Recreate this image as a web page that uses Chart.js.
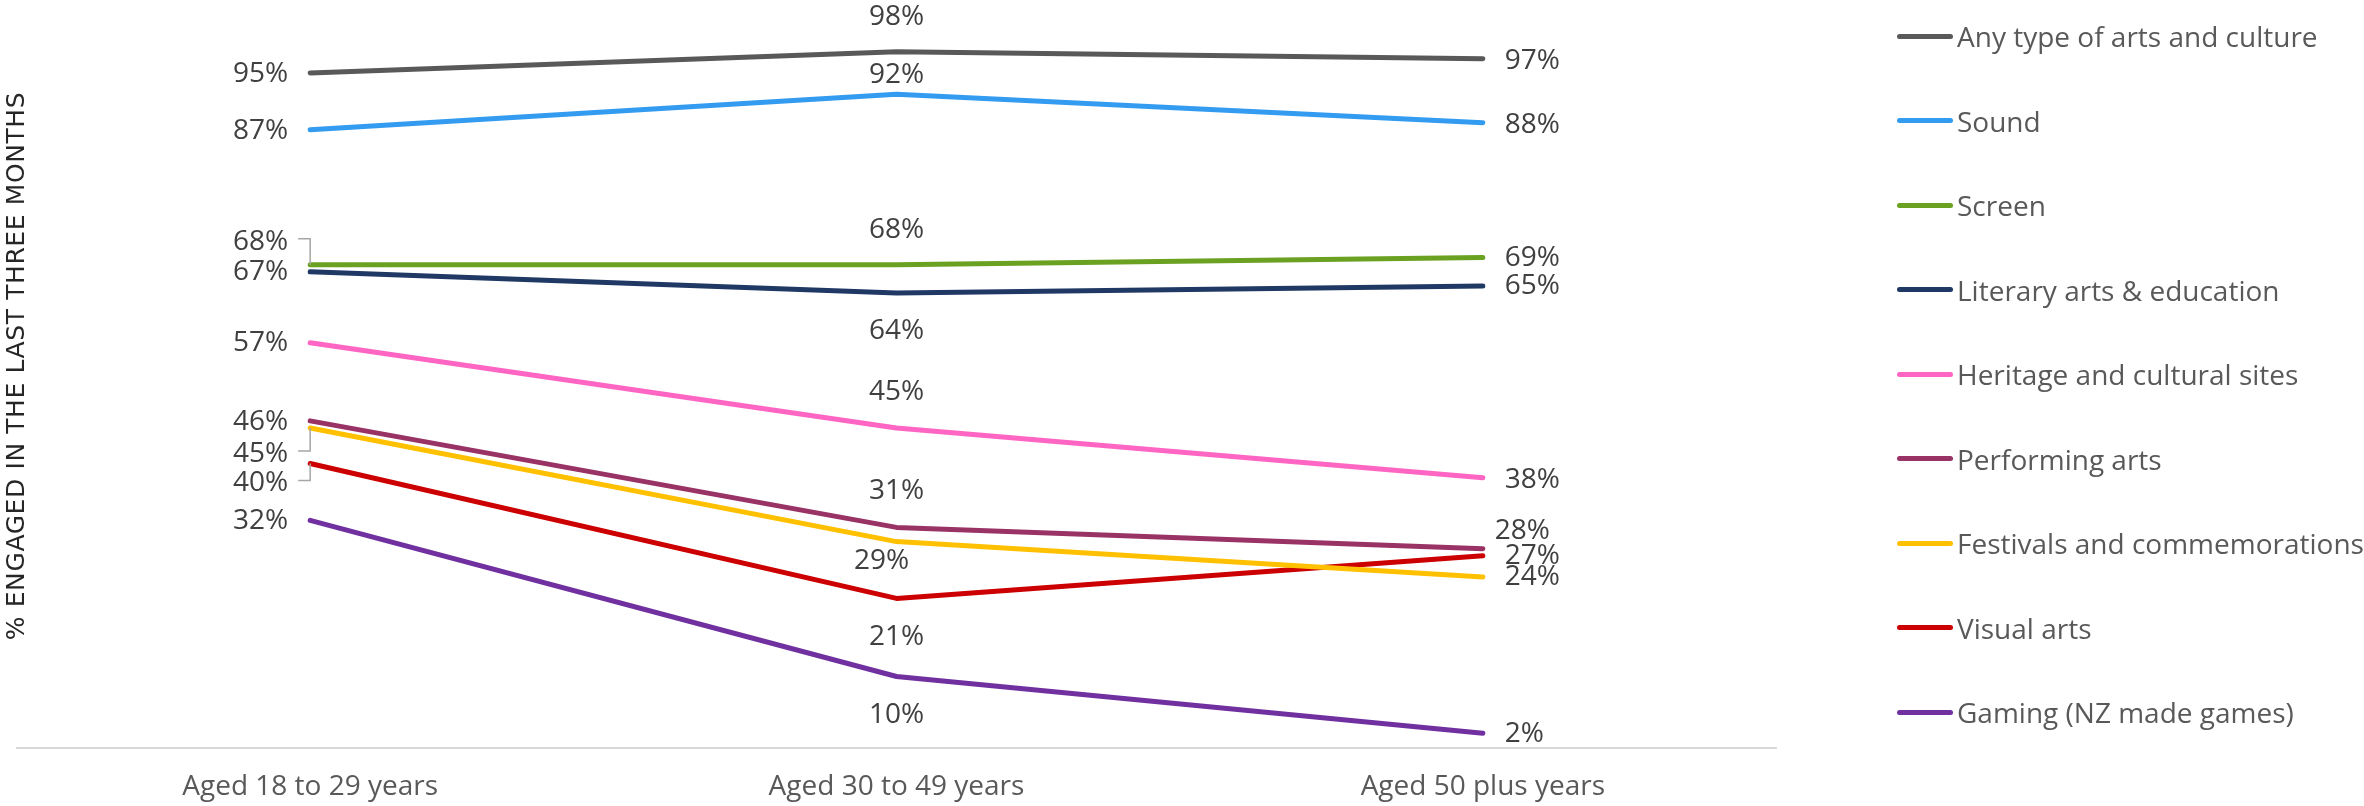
<!DOCTYPE html>
<html>
<head>
<meta charset="utf-8">
<title>Arts engagement by age group</title>
<script src="https://cdn.jsdelivr.net/npm/chart.js@4.4.1/dist/chart.umd.min.js"></script>
<style>
  html, body { margin: 0; padding: 0; background: #fff; }
  #wrap { position: relative; width: 2364px; height: 806px; overflow: hidden; }
  #wrap canvas { position: absolute; left: 0; top: 0; }
  #legend { position: absolute; left: 1897px; top: -6.25px; font-family: 'Open Sans', sans-serif; font-size: 28px; color: #595959; }
  #legend .item { height: 84.5px; display: flex; align-items: center; white-space: nowrap; }
  #legend .swatch { width: 56px; height: 5px; border-radius: 3px; margin-right: 4px; }
</style>
</head>
<body>
<div id="wrap">
  <canvas id="chartEngaged" width="2364" height="806"></canvas>
  <div id="legend"></div>
</div>
<script>
// categories
const ageGroups = ['Aged 18 to 29 years', 'Aged 30 to 49 years', 'Aged 50 plus years'];

// % engaged in the last three months, per age group
const anyArts    = [95, 98, 97];
const sound      = [87, 92, 88];
const screen     = [68, 68, 69];
const literary   = [67, 64, 65];
const heritage   = [57, 45, 38];
const performing = [46, 31, 28];
const festivals  = [45, 29, 24];
const visualArts = [40, 21, 27];
const gaming     = [32, 10, 2];

const seriesNames = [
  'Any type of arts and culture', 'Sound', 'Screen', 'Literary arts & education',
  'Heritage and cultural sites', 'Performing arts', 'Festivals and commemorations',
  'Visual arts', 'Gaming (NZ made games)'
];
const seriesValues = [anyArts, sound, screen, literary, heritage, performing, festivals, visualArts, gaming];
const seriesColors = ['#595959', '#339cf0', '#6aa121', '#1f3864', '#ff66c4', '#993366', '#ffc000', '#cc0000', '#7030a0'];

// where each value label sits: [side, dy, dx, leader line]
const labelSpots = [
  [['L', 1], ['C', -35], ['R', 2]],
  [['L', 1], ['C', -19], ['R', 2]],
  [['L', -23, 0, true], ['C', -35], ['R', 0]],
  [['L', 0], ['C', 38], ['R', 0]],
  [['L', 0], ['C', -36], ['R', 2]],
  [['L', 1], ['C', -36], ['R', -18, -10]],
  [['L', 26, 0, true], ['C', 19, -15], ['R', 0]],
  [['L', 20, 0, true], ['C', 39], ['R', 0]],
  [['L', 1], ['C', 39], ['R', 1]]
];

const yTitle = '% ENGAGED IN THE LAST THREE MONTHS';

const valueLabels = {
  id: 'valueLabels',
  afterDatasetsDraw(chart) {
    const ctx = chart.ctx;
    ctx.save();
    ctx.font = '28px "Open Sans"';
    ctx.fillStyle = '#404040';
    ctx.textBaseline = 'middle';
    chart.data.datasets.forEach((ds, i) => {
      chart.getDatasetMeta(i).data.forEach((pt, j) => {
        const [side, dy = 0, dx = 0, leader = false] = labelSpots[i][j];
        const y = pt.y + dy;
        let x = pt.x + dx;
        if (side === 'L') { ctx.textAlign = 'right'; x -= 22; }
        else if (side === 'R') { ctx.textAlign = 'left'; x += 22; }
        else ctx.textAlign = 'center';
        if (leader) {
          ctx.strokeStyle = '#a6a6a6';
          ctx.lineWidth = 1.5;
          ctx.beginPath();
          ctx.moveTo(pt.x - 12, y - 3);
          ctx.lineTo(pt.x, y - 3);
          ctx.lineTo(pt.x, pt.y);
          ctx.stroke();
        }
        ctx.fillText(ds.data[j] + '%', x, y);
      });
    });
    ctx.restore();
  }
};

// rotated axis title, placed by hand
const sideTitle = {
  id: 'sideTitle',
  afterDraw(chart) {
    const ctx = chart.ctx;
    ctx.save();
    ctx.translate(17.5, 366);
    ctx.rotate(-Math.PI / 2);
    ctx.font = '25px "DejaVu Sans"';
    ctx.letterSpacing = '0.6px';
    ctx.fillStyle = '#262626';
    ctx.textAlign = 'center';
    ctx.textBaseline = 'middle';
    ctx.fillText(yTitle, 0, 0);
    ctx.restore();
  }
};

const ctx = document.getElementById('chartEngaged');
const engagedChart = new Chart(ctx, {
  type: 'line',
  data: {
    labels: ageGroups,
    datasets: seriesNames.map((name, i) => ({
      label: name,
      data: seriesValues[i],
      borderColor: seriesColors[i],
      backgroundColor: seriesColors[i],
      borderWidth: 5,
      borderCapStyle: 'round',
      borderJoinStyle: 'round',
      pointRadius: 0,
      tension: 0,
      clip: false
    }))
  },
  options: {
    responsive: false,
    animation: false,
    layout: { padding: { left: 17, right: 588, top: 37.5, bottom: 0 } },
    plugins: {
      legend: { display: false },
      tooltip: { enabled: false }
    },
    scales: {
      x: {
        offset: true,
        grid: { display: false, drawTicks: false },
        border: { display: true, color: '#d9d9d9', width: 2 },
        ticks: {
          color: '#595959',
          padding: 23,
          font: { family: 'Open Sans', size: 28 }
        },
        afterFit(scale) { scale.height = 58.5; }
      },
      y: {
        display: false,
        min: 0,
        max: 100
      }
    }
  },
  plugins: [valueLabels, sideTitle]
});

// legend built from the same series
const legendBox = document.getElementById('legend');
engagedChart.data.datasets.forEach(ds => {
  const item = document.createElement('div');
  item.className = 'item';
  const swatch = document.createElement('span');
  swatch.className = 'swatch';
  swatch.style.background = ds.borderColor;
  const text = document.createElement('span');
  text.textContent = ds.label;
  item.appendChild(swatch);
  item.appendChild(text);
  legendBox.appendChild(item);
});
</script>
</body>
</html>
